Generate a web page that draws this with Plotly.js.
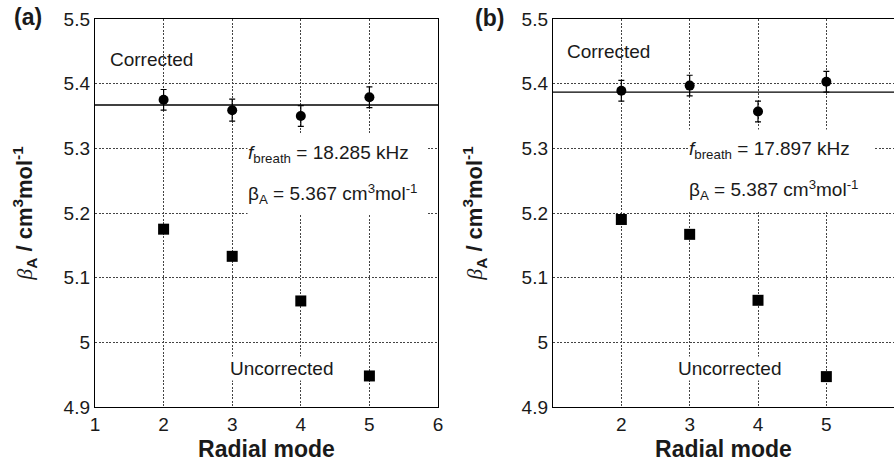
<!DOCTYPE html>
<html>
<head>
<meta charset="utf-8">
<script src="https://cdn.plot.ly/plotly-3.0.1.min.js"></script>
<style>html,body{margin:0;padding:0;background:#fff;}#chart{width:894px;height:466px;}</style>
</head>
<body>
<div id="chart"></div>
<script>
// ---- data ----
const modes = [2, 3, 4, 5];
const correctedA = [5.375, 5.359, 5.350, 5.379];
const correctedErrA = [0.016, 0.017, 0.016, 0.016];
const uncorrectedA = [5.175, 5.133, 5.064, 4.948];
const meanA = 5.367;
const correctedB = [5.389, 5.397, 5.357, 5.403];
const correctedErrB = [0.016, 0.016, 0.016, 0.016];
const uncorrectedB = [5.190, 5.167, 5.065, 4.947];
const meanB = 5.387;
const meanSpan = [1, 6];
const yTickVals = [4.9, 5.0, 5.1, 5.2, 5.3, 5.4, 5.5];
const yTickText = ['4.9', '5', '5.1', '5.2', '5.3', '5.4', '5.5'];
const xTickValsA = [1, 2, 3, 4, 5, 6];
const xTickValsB = [2, 3, 4, 5];
const fBreathA = '18.285', betaA = '5.367';
const fBreathB = '17.897', betaB = '5.387';

const SANS = 'Liberation Sans, Arial, sans-serif';
const INK = '#1a1a1a';

function circles(y, err, xa, ya) {
  return {x: modes, y: y, xaxis: xa, yaxis: ya, type: 'scatter', mode: 'markers',
    marker: {symbol: 'circle', size: 10, color: '#000'},
    error_y: {type: 'data', array: err, visible: true, color: '#000', thickness: 1.2, width: 3},
    hoverinfo: 'skip', showlegend: false};
}
function squares(y, xa, ya) {
  return {x: modes, y: y, xaxis: xa, yaxis: ya, type: 'scatter', mode: 'markers',
    marker: {symbol: 'square', size: 11, color: '#000'}, hoverinfo: 'skip', showlegend: false};
}
function meanLine(v, xa, ya) {
  return {x: meanSpan, y: [v, v], xaxis: xa, yaxis: ya, type: 'scatter', mode: 'lines',
    line: {color: '#000', width: 1.3}, hoverinfo: 'skip', showlegend: false};
}

const traces = [
  meanLine(meanA, 'x', 'y'), circles(correctedA, correctedErrA, 'x', 'y'), squares(uncorrectedA, 'x', 'y'),
  meanLine(meanB, 'x2', 'y2'), circles(correctedB, correctedErrB, 'x2', 'y2'), squares(uncorrectedB, 'x2', 'y2')
];

const yTitle = '<span style="font-family:Liberation Serif"><i>β</i></span><b><sub>A</sub> / cm<sup>3</sup>mol<sup>-1</sup></b>';
const xTitle = '<b>Radial mode</b>';
const GRID = {showgrid: true, gridcolor: '#444', griddash: '2px,1.5px', gridwidth: 1};

function xAxis(domain, range, ticks, mirror) {
  return Object.assign({domain: domain, range: range, tickvals: ticks, ticktext: ticks.map(String),
    showline: true, linecolor: '#000', linewidth: 1.2, mirror: mirror, zeroline: false,
    ticks: '', tickfont: {family: SANS, size: 19, color: INK},
    title: {text: xTitle, font: {family: SANS, size: 23, color: INK}, standoff: 6},
    automargin: false, fixedrange: true}, GRID);
}
function yAxis(anchor, standoff, mirror) {
  return Object.assign({anchor: anchor, domain: [0, 1], range: [4.9, 5.5], tickvals: yTickVals, ticktext: yTickText,
    showline: true, linecolor: '#000', linewidth: 1.2, mirror: mirror, zeroline: false,
    ticks: '', tickfont: {family: SANS, size: 19, color: INK},
    title: {text: yTitle, font: {family: SANS, size: 22, color: INK}, standoff: standoff},
    automargin: false, fixedrange: true}, GRID);
}

const W = 894;
const ann = (o) => Object.assign({showarrow: false, font: {family: SANS, size: 19, color: INK}}, o);

const annotations = [
  ann({text: '<b>(a)</b>', xref: 'paper', yref: 'paper', x: 28 / W, y: 1.005, xanchor: 'center', yanchor: 'middle', font: {family: SANS, size: 23, color: INK}}),
  ann({text: '<b>(b)</b>', xref: 'paper', yref: 'paper', x: 489 / W, y: 1.003, xanchor: 'center', yanchor: 'middle', font: {family: SANS, size: 23, color: INK}}),
  // panel a
  ann({text: 'Corrected', xref: 'x', yref: 'y', x: 1.19, y: 5.437, xanchor: 'left', yanchor: 'middle'}),
  ann({text: 'Uncorrected', xref: 'x', yref: 'y', x: 2.94, y: 4.960, xanchor: 'left', yanchor: 'middle', bgcolor: '#fff'}),
  ann({text: '<i>f</i><sub>breath</sub> = ' + fBreathA + ' kHz', xref: 'x', yref: 'y', x: 3.216, y: 5.292, xanchor: 'left', yanchor: 'middle', bgcolor: '#fff', width: 178, height: 40, align: 'left', borderpad: 0}),
  ann({text: 'β<sub>A</sub> = ' + betaA + ' cm<sup>3</sup>mol<sup>-1</sup>', xref: 'x', yref: 'y', x: 3.216, y: 5.230, xanchor: 'left', yanchor: 'middle', bgcolor: '#fff', width: 178, height: 40, align: 'left', borderpad: 0}),
  // panel b
  ann({text: 'Corrected', xref: 'x2', yref: 'y2', x: 1.176, y: 5.450, xanchor: 'left', yanchor: 'middle'}),
  ann({text: 'Uncorrected', xref: 'x2', yref: 'y2', x: 2.80, y: 4.960, xanchor: 'left', yanchor: 'middle', bgcolor: '#fff'}),
  ann({text: '<i>f</i><sub>breath</sub> = ' + fBreathB + ' kHz', xref: 'x2', yref: 'y2', x: 2.976, y: 5.297, xanchor: 'left', yanchor: 'middle', bgcolor: '#fff', width: 185, height: 40, align: 'left', borderpad: 0}),
  ann({text: 'β<sub>A</sub> = ' + betaB + ' cm<sup>3</sup>mol<sup>-1</sup>', xref: 'x2', yref: 'y2', x: 2.976, y: 5.235, xanchor: 'left', yanchor: 'middle', bgcolor: '#fff', width: 185, height: 40, align: 'left', borderpad: 0})
];

const layout = {
  width: 894, height: 466,
  margin: {l: 0, r: 0, t: 19, b: 59, pad: 0},
  paper_bgcolor: '#fff', plot_bgcolor: '#fff',
  showlegend: false,
  xaxis: xAxis([95 / W, 438 / W], [1, 6], xTickValsA, true),
  yaxis: yAxis('x', 24, true),
  xaxis2: Object.assign(xAxis([553 / W, 1], [1, 5.99], xTickValsB, true), {anchor: 'y2'}),
  yaxis2: yAxis('x2', 32, false),
  annotations: annotations
};
layout.xaxis.anchor = 'y';

Plotly.newPlot('chart', traces, layout, {displayModeBar: false, staticPlot: true});
</script>
</body>
</html>
